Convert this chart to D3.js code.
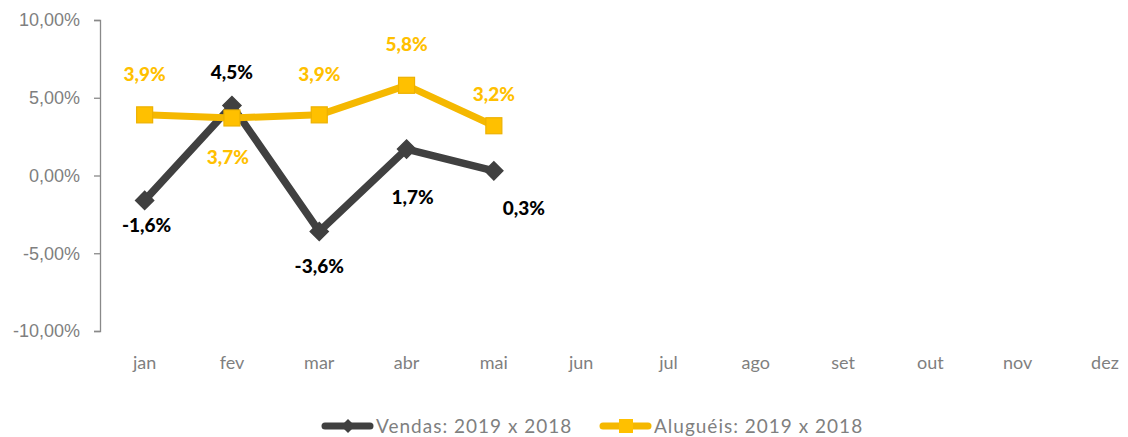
<!DOCTYPE html>
<html lang="pt">
<head>
<meta charset="UTF-8">
<title>Vendas e Aluguéis</title>
<style>
  body { margin: 0; background: #fff; font-family: 'Lato', sans-serif; }
  .tick text { fill: #7f7f7f; font-size: 18px; }
  .lbl { font-weight: 900; font-size: 19px; }
  .leg { fill: #7f7f7f; font-size: 19px; letter-spacing: 1px; }
</style>
</head>
<body>
<div id="chart"></div>
<script src="https://d3js.org/d3.v7.min.js"></script>
<script>
  const months = ["jan", "fev", "mar", "abr", "mai", "jun", "jul", "ago", "set", "out", "nov", "dez"];
  const vendas = [-1.6, 4.5, -3.6, 1.7, 0.3];
  const alugueis = [3.9, 3.7, 3.9, 5.8, 3.2];
  const yTicks = [-10, -5, 0, 5, 10];
  const seriesNames = ["Vendas: 2019 x 2018", "Aluguéis: 2019 x 2018"];

  // label placement (dx, dy from the point)
  const vendasLbl = [[2, 25], [0, -33], [0, 35], [6, 48], [30, 38]];
  const alugLbl = [[0, -41], [-4, 39], [0, -41], [0, -41], [0, -31]];

  const width = 1128, height = 437;
  const margin = { left: 101, top: 20 };

  const svg = d3.select("#chart").append("svg")
      .attr("width", width)
      .attr("height", height);

  const x = d3.scaleBand()
      .domain(months)
      .range([margin.left, margin.left + 87.3 * 12]);

  const y = d3.scaleLinear()
      .domain([-10, 10])
      .range([331, 20]);

  const fmt = v => v.toFixed(2).replace(".", ",") + "%";
  const fmt1 = v => v.toFixed(1).replace(".", ",") + "%";

  // y axis
  const yAxis = svg.append("g")
      .attr("transform", `translate(${margin.left - 1},0)`)
      .call(d3.axisLeft(y).tickValues(yTicks).tickFormat(fmt).tickSize(6).tickPadding(14));
  yAxis.selectAll("line, path").attr("stroke", "#898989").attr("stroke-width", 1.3);

  // x labels
  svg.append("g").selectAll("text")
      .data(months)
      .enter().append("text")
      .attr("x", d => x(d) + x.bandwidth() / 2)
      .attr("y", 369)
      .attr("text-anchor", "middle")
      .attr("fill", "#7f7f7f")
      .style("font-size", "18px")
      .text(d => d);

  const cx = i => x(months[i]) + x.bandwidth() / 2;
  const line = d3.line().x((d, i) => cx(i)).y(d => y(d));

  const darkC = "#404040", goldC = "#F5B800", goldFill = "#FFC000";

  svg.append("path")
      .datum(vendas)
      .attr("d", line)
      .attr("fill", "none")
      .attr("stroke", darkC)
      .attr("stroke-width", 7.5)
      .attr("stroke-linejoin", "round");

  svg.append("g").selectAll("path")
      .data(vendas)
      .enter().append("path")
      .attr("transform", (d, i) => `translate(${cx(i)},${y(d)})`)
      .attr("d", "M0,-9L9,0L0,9L-9,0Z")
      .attr("fill", darkC)
      .attr("stroke", darkC)
      .attr("stroke-width", 1.5);

  svg.append("path")
      .datum(alugueis)
      .attr("d", line)
      .attr("fill", "none")
      .attr("stroke", goldC)
      .attr("stroke-width", 7)
      .attr("stroke-linejoin", "round");

  svg.append("g").selectAll("rect")
      .data(alugueis)
      .enter().append("rect")
      .attr("x", (d, i) => cx(i) - 8)
      .attr("y", d => y(d) - 8)
      .attr("width", 16)
      .attr("height", 16)
      .attr("fill", goldFill)
      .attr("stroke", "#EDB100")
      .attr("stroke-width", 1.2);

  // data labels
  svg.append("g").selectAll("text")
      .data(vendas)
      .enter().append("text")
      .attr("class", "lbl")
      .attr("x", (d, i) => cx(i) + vendasLbl[i][0])
      .attr("y", (d, i) => y(d) + vendasLbl[i][1])
      .attr("dy", "0.35em")
      .attr("text-anchor", "middle")
      .attr("fill", "#000")
      .text(d => fmt1(d));

  svg.append("g").selectAll("text")
      .data(alugueis)
      .enter().append("text")
      .attr("class", "lbl")
      .attr("x", (d, i) => cx(i) + alugLbl[i][0])
      .attr("y", (d, i) => y(d) + alugLbl[i][1])
      .attr("dy", "0.35em")
      .attr("text-anchor", "middle")
      .attr("fill", goldFill)
      .text(d => fmt1(d));

  // legend
  const legend = svg.append("g").attr("transform", "translate(0,426)");
  const lg1 = legend.append("g").attr("transform", "translate(325,0)");
  lg1.append("line").attr("x1", 0).attr("x2", 45).attr("stroke", darkC)
      .attr("stroke-width", 7).attr("stroke-linecap", "round");
  lg1.append("path").attr("transform", "translate(23,0)")
      .attr("d", "M0,-7L7,0L0,7L-7,0Z").attr("fill", darkC);
  lg1.append("text").attr("class", "leg").attr("x", 51).attr("dy", "0.35em")
      .text(seriesNames[0]);

  const lg2 = legend.append("g").attr("transform", "translate(603,0)");
  lg2.append("line").attr("x1", 0).attr("x2", 45).attr("stroke", goldC)
      .attr("stroke-width", 7).attr("stroke-linecap", "round");
  lg2.append("rect").attr("x", 16).attr("y", -7).attr("width", 14).attr("height", 14)
      .attr("fill", goldFill);
  lg2.append("text").attr("class", "leg").attr("x", 51).attr("dy", "0.35em")
      .text(seriesNames[1]);
</script>
</body>
</html>
